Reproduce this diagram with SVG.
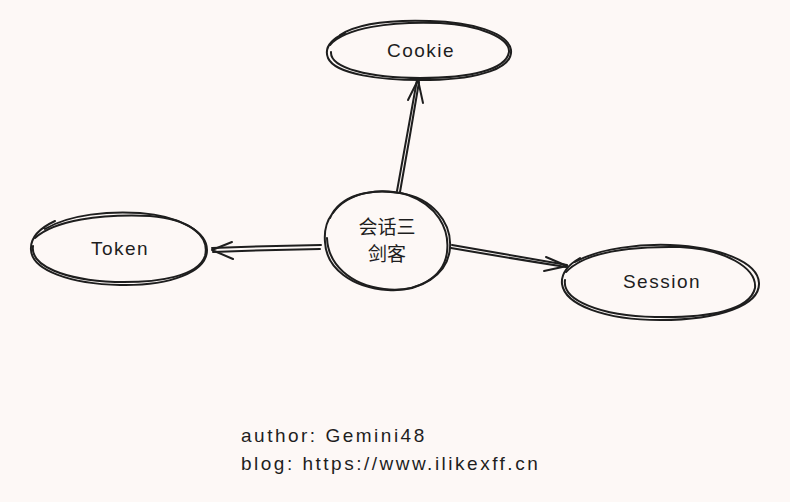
<svg xmlns="http://www.w3.org/2000/svg" width="790" height="502" viewBox="0 0 790 502">
<defs>
<style>
.sk{fill:none;stroke:#1e1e1e;stroke-width:2;stroke-linecap:round;stroke-linejoin:round}
.lbl{font-family:"Liberation Sans","Noto Sans CJK SC",sans-serif;font-size:19px;fill:#1e1e1e;text-anchor:middle;letter-spacing:1.5px}
.cjk{font-family:"Noto Sans CJK SC",sans-serif;font-size:19px;fill:#1e1e1e;text-anchor:middle}
.ft{font-family:"Liberation Sans",sans-serif;font-size:19px;fill:#1e1e1e;letter-spacing:2.5px}
</style>
</defs>
<rect width="790" height="502" fill="#fdf8f6"/>
<g id="connectors">
<g id="edge-cookie">
<path class="sk" d="M397 191 Q407 135 417 80"/>
<path class="sk" d="M400 192 Q410 136 419 82"/>
<path class="sk" d="M408 100 L418 80 L423 103"/>
</g>
<g id="edge-token">
<path class="sk" d="M321 245 Q265 246 212 248"/>
<path class="sk" d="M320 249 Q265 250 213 252"/>
<path class="sk" d="M232 242 L212 250 L233 259"/>
</g>
<g id="edge-session">
<path class="sk" d="M452 245 Q510 255 567 265"/>
<path class="sk" d="M451 248 Q509 258 566 267"/>
<path class="sk" d="M546 257 L567 266 L544 271"/>
</g>
</g>
<g id="node-center">
<path class="sk" d="M330 218 C340 195 370 188 400 193 C432 198 452 222 450 248 C448 275 420 292 388 290 C352 288 326 268 325 242 C324 230 326 222 332 214"/>
<path class="sk" d="M333 213 C348 192 380 187 408 195 C436 205 450 228 447 252 C444 278 416 293 384 289 C350 285 328 264 327 238"/>
<text class="cjk" x="387" y="234">会话三</text>
<text class="cjk" x="387" y="261">剑客</text>
</g>
<g id="node-cookie">
<path class="sk" d="M340 35 C360 22 400 20 430 21 C470 22 508 32 511 50 C513 68 480 79 430 80 C380 81 335 74 328 58 C324 48 330 40 345 33"/>
<path class="sk" d="M330 45 C345 28 390 21 440 23 C480 25 510 38 509 52 C506 70 470 78 420 78 C370 78 330 68 331 52"/>
<text class="lbl" x="421" y="57">Cookie</text>
</g>
<g id="node-token">
<path class="sk" d="M45 229 C70 214 110 211 140 213 C180 216 207 232 207 250 C207 272 170 286 120 285 C70 284 32 270 31 250 C30 238 40 228 55 221"/>
<path class="sk" d="M35 238 C55 220 100 214 150 216 C190 219 210 236 205 256 C198 276 160 283 115 282 C65 280 30 266 33 246"/>
<text class="lbl" x="120" y="255">Token</text>
</g>
<g id="node-session">
<path class="sk" d="M575 262 C600 248 640 244 670 245 C720 247 758 262 759 283 C760 305 720 320 660 320 C605 320 565 305 562 284 C561 274 566 266 580 258"/>
<path class="sk" d="M566 272 C585 252 630 246 680 247 C725 249 757 268 755 288 C750 310 710 318 655 317 C600 316 562 300 565 280"/>
<text class="lbl" x="662" y="288">Session</text>
</g>
<g id="footer">
<text class="ft" x="241" y="442">author: Gemini48</text>
<text class="ft" x="241" y="470">blog: https://www.ilikexff.cn</text>
</g>
</svg>
